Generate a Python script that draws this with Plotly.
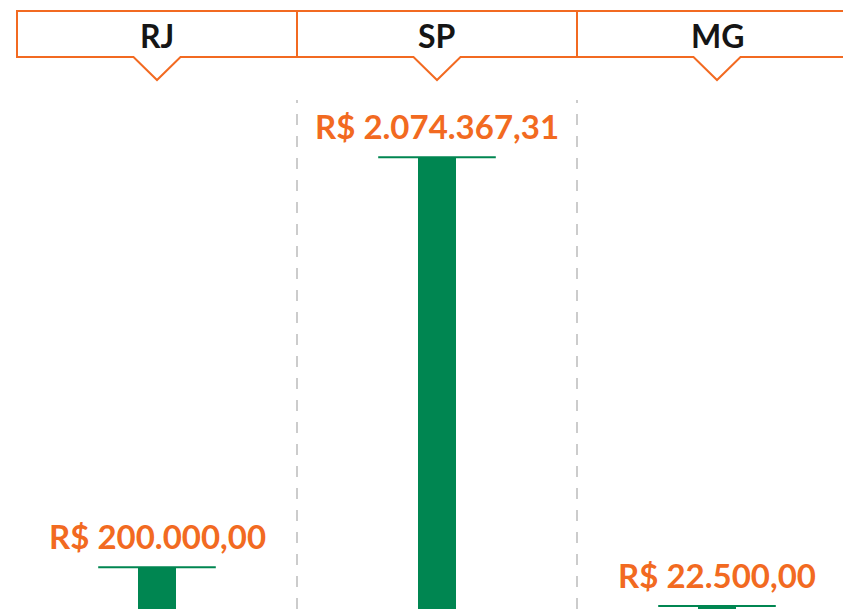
import plotly.graph_objects as go

categories = ["RJ", "SP", "MG"]
values = [200000.00, 2074367.31, 22500.00]
labels = ["R$ 200.000,00", "R$ 2.074.367,31", "R$ 22.500,00"]

ORANGE = "#F26A21"
GREEN = "#008651"
W, H = 843, 609

def py(p):
    return 1 - p / H

xs = list(range(len(categories)))

fig = go.Figure()
fig.add_trace(go.Bar(x=xs, y=values, width=0.136, marker=dict(color=GREEN, line=dict(width=0)),
                     hoverinfo="skip", showlegend=False))

cx, cy = [], []
for i, v in zip(xs, values):
    cx += [i - 0.21, i + 0.21, None]
    cy += [v, v, None]
fig.add_trace(go.Scatter(x=cx, y=cy, mode="lines", line=dict(color=GREEN, width=2),
                         hoverinfo="skip", showlegend=False, cliponaxis=False))

shapes = []
for i in xs:
    top, bot, tip, hw = py(11), py(57), py(80), 0.084
    path = (f"M {i-0.5},{bot} L {i-0.5},{top} L {i+0.5},{top} L {i+0.5},{bot} "
            f"L {i+hw},{bot} L {i},{tip} L {i-hw},{bot} Z")
    shapes.append(dict(type="path", path=path, xref="x", yref="paper",
                       line=dict(color=ORANGE, width=2), fillcolor="white", layer="above"))
for i in xs[:-1]:
    shapes.append(dict(type="line", xref="x", yref="paper", x0=i + 0.5, x1=i + 0.5,
                       y0=0, y1=py(100), line=dict(color="#CCCCCC", width=2, dash="11px,11px"),
                       layer="below"))

annotations = []
for i, c in zip(xs, categories):
    annotations.append(dict(x=i, y=py(35), xref="x", yref="paper", text=f"<b>{c}</b>",
                            showarrow=False, yanchor="middle",
                            font=dict(family="Lato", size=32, color="#151515")))
for i, v, t in zip(xs, values, labels):
    annotations.append(dict(x=i, y=v, xref="x", yref="y", text=f"<b>{t}</b>", showarrow=False,
                            yanchor="bottom", yshift=9,
                            font=dict(family="Lato", size=33, color=ORANGE)))

fig.update_layout(
    width=W, height=H, margin=dict(l=0, r=0, t=0, b=0),
    paper_bgcolor="white", plot_bgcolor="white",
    xaxis=dict(range=[-157 / 280, (W - 157) / 280], visible=False, fixedrange=True),
    yaxis=dict(range=[9143, 2793260], visible=False, fixedrange=True),
    shapes=shapes, annotations=annotations, bargap=0,
)
fig.write_html("out.html", config={"displayModeBar": False},
               post_script="document.body.style.margin='0';document.body.style.overflow='hidden';")
